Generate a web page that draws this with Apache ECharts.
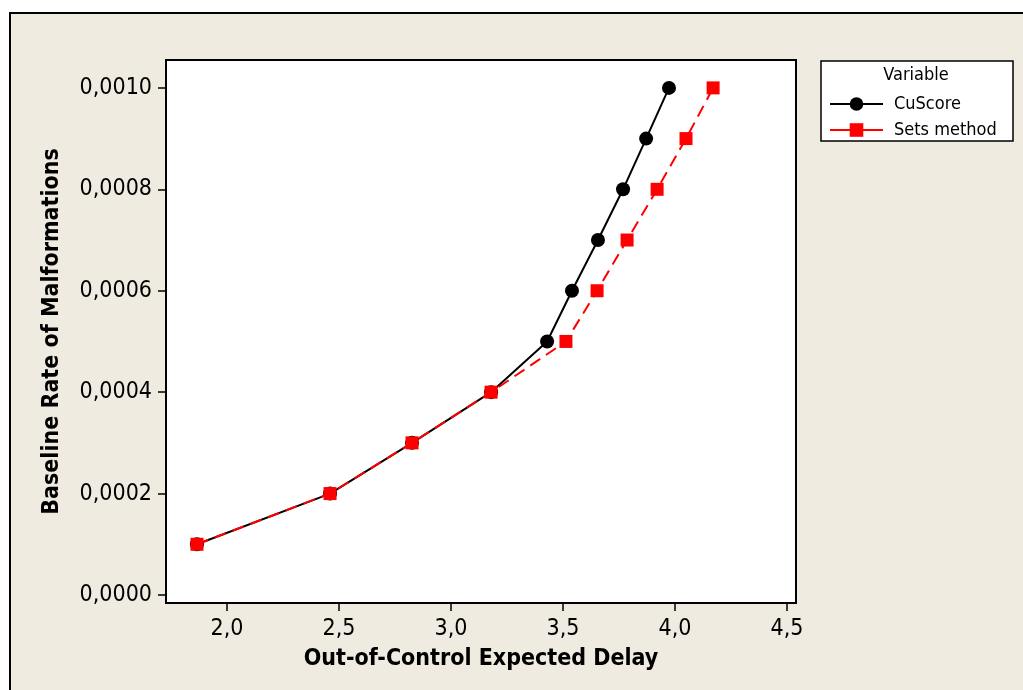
<!DOCTYPE html>
<html>
<head>
<meta charset="utf-8">
<script src="https://cdn.jsdelivr.net/npm/echarts@6/dist/echarts.min.js"></script>
<style>
html,body{margin:0;padding:0;background:#ffffff;}
#bg{position:absolute;left:9px;top:12px;width:1014px;height:678px;background:#efebe1;border-top:2px solid #000;border-left:2px solid #000;box-sizing:border-box;}
#chart{position:absolute;left:0;top:0;width:1023px;height:690px;}
</style>
</head>
<body>
<div id="bg"></div>
<div id="chart"></div>
<script>
const seriesNames = ['CuScore', 'Sets method'];
const rates = [0.0001, 0.0002, 0.0003, 0.0004, 0.0005, 0.0006, 0.0007, 0.0008, 0.0009, 0.0010];
const cuscoreDelay = [1.866, 2.46, 2.826, 3.179, 3.429, 3.54, 3.656, 3.768, 3.871, 3.973];
const setsDelay = [1.866, 2.46, 2.826, 3.179, 3.513, 3.652, 3.786, 3.92, 4.049, 4.17];
const xTicks = [2.0, 2.5, 3.0, 3.5, 4.0, 4.5];
const yTicks = [0, 0.0002, 0.0004, 0.0006, 0.0008, 0.0010];

const FONT = '"DejaVu Sans Condensed", "DejaVu Sans", sans-serif';
const chart = echarts.init(document.getElementById('chart'), null, {renderer: 'canvas'});
const pairs = (xs, ys) => xs.map((x, i) => [x, ys[i]]);

chart.setOption({
  backgroundColor: 'transparent',
  animation: false,
  grid: {
    left: 166, top: 60, width: 630, height: 543,
    show: true, backgroundColor: '#ffffff', borderColor: '#000000', borderWidth: 2
  },
  xAxis: {
    type: 'value',
    min: 1.7277, max: 4.540,
    name: 'Out-of-Control Expected Delay',
    nameLocation: 'middle', nameGap: 45,
    nameTextStyle: {fontFamily: FONT, fontWeight: 'bold', fontSize: 23, color: '#000'},
    axisLine: {show: false, onZero: false},
    axisTick: {show: true, length: 8, lineStyle: {color: '#000', width: 1.5}, customValues: xTicks},
    axisLabel: {fontFamily: FONT, fontSize: 23, color: '#000', margin: 15, customValues: xTicks,
      formatter: v => v.toFixed(1).replace('.', ',')},
    splitLine: {show: false}
  },
  yAxis: {
    type: 'value',
    min: -0.0000158, max: 0.001055,
    name: 'Baseline Rate of Malformations',
    nameLocation: 'middle', nameGap: 102,
    nameTextStyle: {fontFamily: FONT, fontWeight: 'bold', fontSize: 23, color: '#000'},
    axisLine: {show: false, onZero: false},
    axisTick: {show: true, length: 8, lineStyle: {color: '#000', width: 1.5}, customValues: yTicks},
    axisLabel: {fontFamily: FONT, fontSize: 23, color: '#000', margin: 14, customValues: yTicks,
      formatter: v => v.toFixed(4).replace('.', ',')},
    splitLine: {show: false}
  },
  legend: {
    orient: 'vertical',
    left: 829, top: 95,
    padding: 0,
    itemWidth: 53, itemHeight: 17, itemGap: 8,
    lineStyle: {type: 'solid', width: 2},
    textStyle: {fontFamily: FONT, fontSize: 18, color: '#000', padding: [0, 0, 0, 6]},
    data: seriesNames
  },
  graphic: [
    {type: 'rect', x: 821, y: 61, shape: {x: 0, y: 0, width: 192, height: 80},
      style: {fill: '#ffffff', stroke: '#000', lineWidth: 1.5}, z: -1},
    {type: 'text', x: 916, y: 66,
      style: {text: 'Variable', font: '18px ' + FONT, fill: '#000', align: 'center', verticalAlign: 'top'}}
  ],
  series: [
    {
      name: seriesNames[0], type: 'line',
      data: pairs(cuscoreDelay, rates),
      symbol: 'circle', symbolSize: 14,
      itemStyle: {color: '#000000'},
      lineStyle: {color: '#000000', width: 2},
      z: 3
    },
    {
      name: seriesNames[1], type: 'line',
      data: pairs(setsDelay, rates),
      symbol: 'rect', symbolSize: 13,
      itemStyle: {color: '#ff0000'},
      lineStyle: {color: '#ff0000', width: 2, type: [12, 7]},
      z: 4
    }
  ]
});
</script>
</body>
</html>
